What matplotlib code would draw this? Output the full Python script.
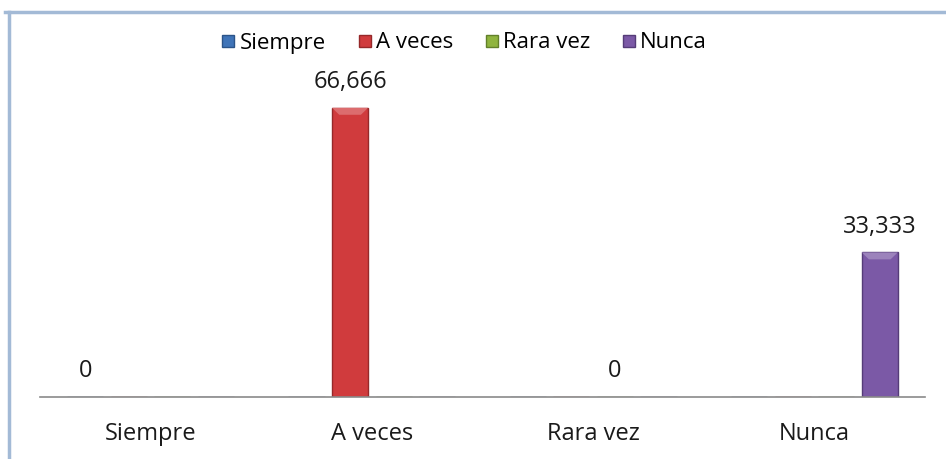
import matplotlib.pyplot as plt
import numpy as np
from matplotlib.lines import Line2D
from matplotlib.patches import Polygon
import matplotlib.colors as mcolors

# datos
categorias = ['Siempre', 'A veces', 'Rara vez', 'Nunca']
series = ['Siempre', 'A veces', 'Rara vez', 'Nunca']
valores = [0, 66.666, 0, 33.333]
etiquetas = ['0', '66,666', '0', '33,333']
colores = ['#3f74b8', '#d03b3d', '#8fb43e', '#7b59a6']
bordes = ['#2b5489', '#962829', '#62802a', '#553c78']

plt.rcParams['font.family'] = ['Open Sans', 'DejaVu Sans']


def aclarar(c, f):
    r = np.array(mcolors.to_rgb(c))
    return tuple(r + (1 - r)*f)


fig = plt.figure(figsize=(9.46, 4.59), dpi=100)
ax = fig.add_axes([40/946, 62/459, 885/946, 347/459])

x = np.arange(len(categorias))
ancho = 0.163
paso = 0.197
ax.set_xlim(-0.5, 3.5)
ax.set_ylim(0, 80)
for i in range(len(series)):
    # cada serie solo tiene valor en su propia categoria
    h = [0]*len(categorias)
    h[i] = valores[i]
    barras = ax.bar(x + (i - 1.5)*paso, h, ancho, color=colores[i],
                    edgecolor=bordes[i], linewidth=1.0, label=series[i], zorder=2)
    labs = ['']*len(categorias)
    labs[i] = etiquetas[i]
    ax.bar_label(barras, labels=labs, padding=10, fontsize=17, color='#1a1a1a')
    # efecto bisel arriba (sacado de la propia barra)
    for b in barras:
        if b.get_height() <= 0:
            continue
        x0, w, top = b.get_x(), b.get_width(), b.get_height()
        dx = w*0.2
        dy = 1.6
        bisel = Polygon([[x0, top], [x0 + w, top], [x0 + w - dx, top - dy], [x0 + dx, top - dy]],
                        closed=True, facecolor=aclarar(colores[i], 0.25), edgecolor='none', zorder=3)
        ax.add_patch(bisel)

ax.set_xticks(x)
ax.set_xticklabels(categorias, fontsize=17, color='#1a1a1a')
ax.tick_params(axis='x', length=0, pad=18)
ax.set_yticks([])
for s in ['top', 'right', 'left']:
    ax.spines[s].set_visible(False)
ax.spines['bottom'].set_color('#8a8a8a')
ax.spines['bottom'].set_linewidth(1.2)

handles = [Line2D([], [], marker='s', linestyle='', markersize=8.5,
                  markerfacecolor=colores[i], markeredgecolor=bordes[i])
           for i in range(len(series))]
fig.legend(handles, series, loc='center', bbox_to_anchor=(465/946, 1 - 43/459),
           ncol=4, frameon=False, fontsize=16, handletextpad=0.25,
           columnspacing=1.5, handlelength=0.5)

# marco del grafico (arriba e izquierda)
fig.add_artist(Line2D([5/946, 1], [1 - 12/459, 1 - 12/459], color='#a3bad6', linewidth=2.5))
fig.add_artist(Line2D([9/946, 9/946], [0, 1 - 12/459], color='#a3bad6', linewidth=2.5))

fig.savefig('out.png', dpi=100)
